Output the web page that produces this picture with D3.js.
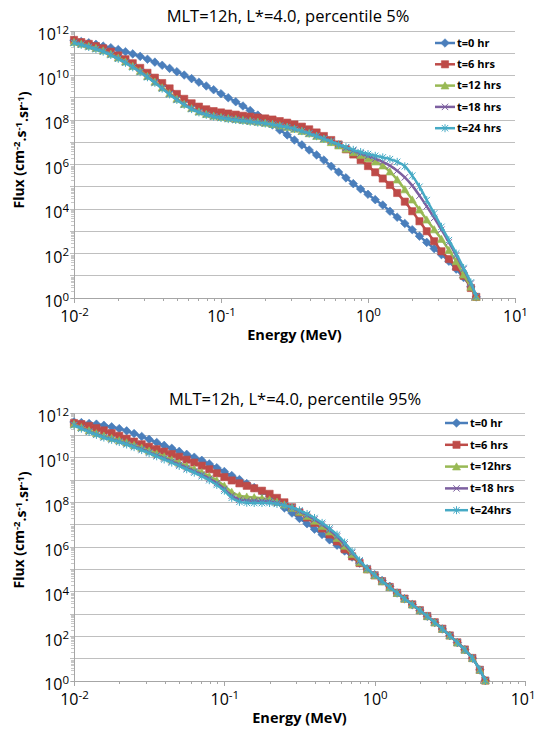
<!DOCTYPE html>
<html>
<head>
<meta charset="utf-8">
<script src="https://cdn.jsdelivr.net/npm/d3@7"></script>
<style>
  body { margin: 0; background: #fff; }
  svg text { font-family: "Open Sans", "Noto Sans", sans-serif; fill: #000; }
</style>
</head>
<body>
<svg id="chart" width="536" height="730"></svg>
<script>
// Energy grid (MeV), shared by all curves
var energy = [0.0100,0.0112,0.0126,0.0141,0.0158,0.0178,0.0200,0.0224,0.0251,0.0282,
  0.0316,0.0355,0.0398,0.0447,0.0501,0.0562,0.0631,0.0708,0.0794,0.0891,
  0.100,0.112,0.126,0.141,0.158,0.178,0.200,0.224,0.251,0.282,
  0.316,0.355,0.398,0.447,0.501,0.562,0.631,0.708,0.794,0.891,
  1.00,1.12,1.26,1.41,1.58,1.78,2.00,2.24,2.51,2.82,
  3.16,3.55,3.98,4.47,5.01,5.45];

// log10 of flux, percentile 5%
var p5_t0 = [11.58,11.53,11.47,11.40,11.32,11.25,11.17,11.07,10.97,10.86,
  10.73,10.60,10.46,10.32,10.17,10.02,9.86,9.70,9.53,9.36,
  9.18,9.00,8.82,8.63,8.43,8.22,8.01,7.78,7.55,7.33,
  7.10,6.88,6.65,6.43,6.20,5.92,5.66,5.40,5.14,4.90,
  4.66,4.42,4.18,3.90,3.63,3.35,3.07,2.78,2.50,2.22,
  1.95,1.65,1.30,0.92,0.50,0.05];
var p5_t6 = [11.60,11.50,11.42,11.32,11.22,11.07,10.90,10.73,10.55,10.34,
  10.12,9.90,9.66,9.42,9.17,8.95,8.75,8.60,8.48,8.40,
  8.34,8.29,8.24,8.19,8.15,8.11,8.07,8.02,7.95,7.88,
  7.80,7.70,7.58,7.44,7.28,7.10,6.90,6.68,6.45,6.20,
  5.93,5.65,5.37,5.08,4.72,4.33,3.90,3.45,3.00,2.55,
  2.10,1.75,1.40,1.00,0.45,0.05];
var p5_t12 = [11.50,11.42,11.33,11.23,11.12,10.97,10.80,10.62,10.42,10.20,
  9.97,9.72,9.46,9.20,8.95,8.72,8.53,8.38,8.27,8.19,
  8.13,8.08,8.04,8.00,7.96,7.92,7.87,7.82,7.75,7.68,
  7.60,7.50,7.40,7.28,7.15,7.00,6.85,6.70,6.55,6.42,
  6.28,6.13,5.95,5.68,5.32,4.88,4.42,3.97,3.52,3.08,
  2.65,2.15,1.65,1.05,0.50,0.05];
var p5_t18 = [11.48,11.40,11.30,11.20,11.09,10.94,10.77,10.59,10.39,10.17,
  9.94,9.69,9.43,9.17,8.92,8.70,8.51,8.36,8.25,8.17,
  8.11,8.06,8.02,7.98,7.94,7.90,7.85,7.80,7.74,7.67,
  7.59,7.50,7.40,7.29,7.17,7.03,6.89,6.75,6.62,6.50,
  6.38,6.26,6.12,5.95,5.72,5.42,5.05,4.60,4.12,3.60,
  3.07,2.50,1.92,1.30,0.65,0.07];
var p5_t24 = [11.46,11.38,11.28,11.18,11.07,10.92,10.75,10.57,10.37,10.15,
  9.92,9.67,9.41,9.15,8.90,8.68,8.49,8.34,8.23,8.15,
  8.09,8.04,8.00,7.96,7.92,7.88,7.84,7.79,7.74,7.68,
  7.60,7.50,7.39,7.27,7.15,7.03,6.90,6.78,6.66,6.56,
  6.47,6.39,6.32,6.24,6.12,5.92,5.50,5.00,4.40,3.80,
  3.20,2.60,2.00,1.35,0.70,0.08];

// log10 of flux, percentile 95%
var p95_t0 = [11.60,11.57,11.53,11.50,11.45,11.38,11.30,11.20,11.08,10.95,
  10.82,10.68,10.55,10.42,10.28,10.15,10.02,9.88,9.72,9.55,
  9.38,9.20,9.02,8.84,8.66,8.47,8.27,8.03,7.75,7.52,
  7.28,7.04,6.80,6.56,6.32,6.08,5.82,5.55,5.28,5.02,
  4.76,4.50,4.24,3.94,3.68,3.42,3.16,2.90,2.62,2.33,
  2.03,1.72,1.40,1.02,0.50,0.02];
var p95_t6 = [11.55,11.50,11.42,11.32,11.22,11.10,10.98,10.85,10.72,10.60,
  10.49,10.38,10.27,10.16,10.04,9.91,9.78,9.64,9.48,9.30,
  9.13,8.98,8.85,8.74,8.63,8.52,8.38,8.20,8.00,7.78,
  7.55,7.32,7.08,6.83,6.56,6.25,5.90,5.58,5.28,5.00,
  4.73,4.47,4.21,3.95,3.69,3.43,3.17,2.91,2.63,2.34,
  2.04,1.73,1.41,1.03,0.50,0.02];
var p95_t12 = [11.50,11.36,11.22,11.09,10.98,10.88,10.78,10.68,10.56,10.44,
  10.31,10.18,10.05,9.91,9.77,9.63,9.49,9.34,9.17,8.98,
  8.74,8.46,8.30,8.25,8.22,8.18,8.12,8.02,7.90,7.75,
  7.57,7.38,7.17,6.94,6.69,6.40,6.05,5.68,5.32,5.00,
  4.73,4.46,4.20,3.94,3.68,3.42,3.16,2.90,2.62,2.33,
  2.03,1.72,1.40,1.02,0.50,0.02];
var p95_t18 = [11.47,11.32,11.17,11.04,10.92,10.82,10.72,10.62,10.50,10.38,
  10.24,10.10,9.97,9.83,9.69,9.54,9.39,9.24,9.06,8.86,
  8.60,8.30,8.12,8.08,8.07,8.06,8.04,7.97,7.87,7.75,
  7.60,7.43,7.23,7.01,6.76,6.47,6.12,5.74,5.36,5.02,
  4.74,4.46,4.20,3.94,3.68,3.42,3.16,2.90,2.62,2.33,
  2.03,1.72,1.40,1.02,0.50,0.02];
var p95_t24 = [11.45,11.30,11.15,11.02,10.90,10.80,10.70,10.59,10.47,10.34,
  10.20,10.06,9.92,9.78,9.63,9.48,9.33,9.17,8.99,8.78,
  8.52,8.20,8.02,7.98,7.97,7.97,7.97,7.93,7.86,7.77,
  7.64,7.48,7.30,7.08,6.83,6.55,6.20,5.80,5.40,5.04,
  4.75,4.47,4.20,3.94,3.68,3.42,3.16,2.90,2.62,2.33,
  2.03,1.72,1.40,1.02,0.50,0.02];

var labels5 = ["t=0 hr", "t=6 hrs", "t=12 hrs", "t=18 hrs", "t=24 hrs"];
var labels95 = ["t=0 hr", "t=6 hrs", "t=12hrs", "t=18 hrs", "t=24hrs"];

var yTickPowers = [0, 2, 4, 6, 8, 10, 12];
var gridPowers = [0, 1, 2, 3, 4, 5, 6, 7, 8, 9, 10, 11, 12];
var xTickPowers = [-2, -1, 0, 1];

var seriesColors = ["#4a7ebb", "#be4b48", "#98b954", "#7d60a0", "#46aac5"];
var seriesMarkers = ["diamond", "square", "triangle", "x", "star"];

//-------------------------------
// marker shapes (Excel 2007 style)
function markerPath(type) {
  if (type == "diamond") return "M0,-4.3L4.3,0L0,4.3L-4.3,0Z";
  if (type == "square") return "M-3.6,-3.6h7.2v7.2h-7.2Z";
  if (type == "triangle") return "M0,-3.8L4,3.4L-4,3.4Z";
  if (type == "x") return "M-3.2,-3.2L3.2,3.2M3.2,-3.2L-3.2,3.2";
  if (type == "star") return "M-3.2,-3.2L3.2,3.2M3.2,-3.2L-3.2,3.2M0,-4L0,4";
}

function isOpen(type) {
  return type == "x" || type == "star";
}

function drawMarker(sel, type, color) {
  sel.attr("d", markerPath(type))
    .attr("fill", isOpen(type) ? "none" : color)
    .attr("stroke", color)
    .attr("stroke-width", isOpen(type) ? 1 : 0.6);
}

function supLabel(text, exp, supSize) {
  text.text(null);
  text.append("tspan").text("10");
  text.append("tspan")
    .attr("dy", "-0.55em")
    .attr("font-size", supSize)
    .text(exp);
}

function drawPanel(svg, cfg) {
  var x = d3.scaleLog().domain([0.01, 10]).range([cfg.left, cfg.right]);
  var y = d3.scaleLog().domain([1, 1e12]).range([cfg.bottom, cfg.top]);

  var g = svg.append("g");

  // gridlines every decade
  g.append("g")
    .selectAll("line")
    .data(gridPowers)
    .enter().append("line")
    .attr("x1", cfg.left - 4)
    .attr("x2", cfg.right)
    .attr("y1", function(p) { return y(Math.pow(10, p)); })
    .attr("y2", function(p) { return y(Math.pow(10, p)); })
    .attr("stroke", "#bfbfbf")
    .attr("stroke-width", 1)
    .attr("shape-rendering", "crispEdges");

  // y minor ticks
  var yMinor = [];
  gridPowers.slice(0, 12).forEach(function(p) {
    for (var m = 2; m <= 9; m++) yMinor.push(m * Math.pow(10, p));
  });
  var yMinorAxis = g.append("g")
    .attr("transform", "translate(" + cfg.left + ",0)")
    .call(d3.axisLeft(y).tickValues(yMinor).tickSize(3).tickFormat(""));
  yMinorAxis.select(".domain").attr("stroke", "#a6a6a6");
  yMinorAxis.selectAll(".tick line").attr("stroke", "#c8c8c8").attr("shape-rendering", "crispEdges");

  // y labels
  var yAxis = g.append("g")
    .attr("transform", "translate(" + cfg.left + ",0)")
    .call(d3.axisLeft(y).tickValues(yTickPowers.map(function(p) { return Math.pow(10, p); })).tickSize(0).tickPadding(5));
  yAxis.select(".domain").remove();
  yAxis.selectAll(".tick text")
    .attr("font-size", 16)
    .attr("dy", "0.55em")
    .each(function(d) {
      supLabel(d3.select(this), Math.round(Math.log10(d)), 11.5);
    });

  // x axis
  var xMinor = [];
  [-2, -1, 0].forEach(function(p) {
    for (var m = 2; m <= 9; m++) xMinor.push(m * Math.pow(10, p));
  });
  var xMinorAxis = g.append("g")
    .attr("transform", "translate(0," + cfg.bottom + ")")
    .call(d3.axisBottom(x).tickValues(xMinor).tickSize(3).tickFormat(""));
  xMinorAxis.select(".domain").attr("stroke", "#a6a6a6");
  xMinorAxis.selectAll(".tick line").attr("stroke", "#a6a6a6").attr("shape-rendering", "crispEdges");

  var xAxis = g.append("g")
    .attr("transform", "translate(0," + cfg.bottom + ")")
    .call(d3.axisBottom(x).tickValues(xTickPowers.map(function(p) { return Math.pow(10, p); })).tickSize(5).tickPadding(3));
  xAxis.select(".domain").attr("stroke", "#a6a6a6").attr("shape-rendering", "crispEdges");
  xAxis.selectAll(".tick line").attr("stroke", "#a6a6a6").attr("shape-rendering", "crispEdges");
  xAxis.selectAll(".tick text")
    .attr("font-size", 16)
    .attr("dy", "1.0em")
    .each(function(d) {
      supLabel(d3.select(this), Math.round(Math.log10(d)), 11.5);
    });
  // keep the last label inside the page
  xAxis.selectAll(".tick text")
    .filter(function(d) { return d >= 10; })
    .attr("text-anchor", cfg.right > 520 ? "end" : "middle")
    .attr("x", cfg.right > 520 ? 10 : 0);
  g.selectAll(".tick text").attr("fill", "#000");

  // series
  var line = d3.line()
    .x(function(d) { return x(d.e); })
    .y(function(d) { return y(d.f); })
    .curve(d3.curveMonotoneX);

  cfg.series.forEach(function(vals, i) {
    var pts = vals.map(function(v, k) { return {e: energy[k], f: Math.pow(10, v)}; });
    var sg = g.append("g");
    sg.append("path")
      .datum(pts)
      .attr("d", line)
      .attr("fill", "none")
      .attr("stroke", seriesColors[i])
      .attr("stroke-width", 2.5);
    sg.selectAll("path.mk")
      .data(pts)
      .enter().append("path")
      .attr("class", "mk")
      .attr("transform", function(d) { return "translate(" + x(d.e) + "," + y(d.f) + ")"; })
      .call(drawMarker, seriesMarkers[i], seriesColors[i]);
  });

  // title
  svg.append("text")
    .attr("x", cfg.titleX)
    .attr("y", cfg.titleY)
    .attr("text-anchor", "middle")
    .attr("font-size", 16.5)
    .text(cfg.title);

  // axis titles
  svg.append("text")
    .attr("x", (cfg.left + cfg.right) / 2)
    .attr("y", cfg.xLabelY)
    .attr("text-anchor", "middle")
    .attr("font-size", 14.5)
    .attr("font-weight", "bold")
    .text("Energy (MeV)");

  var yl = svg.append("text")
    .attr("transform", "translate(" + cfg.yLabelX + "," + cfg.yLabelY + ") rotate(-90)")
    .attr("text-anchor", "middle")
    .attr("font-size", 14)
    .attr("font-weight", "bold");
  yl.append("tspan").text("Flux (cm");
  yl.append("tspan").attr("dy", "-0.4em").attr("font-size", 9.5).text("-2");
  yl.append("tspan").attr("dy", "0.4em").text(".s");
  yl.append("tspan").attr("dy", "-0.4em").attr("font-size", 9.5).text("-1");
  yl.append("tspan").attr("dy", "0.4em").text(".sr");
  yl.append("tspan").attr("dy", "-0.4em").attr("font-size", 9.5).text("-1");
  yl.append("tspan").attr("dy", "0.4em").text(")");

  // legend
  var lg = svg.append("g");
  cfg.labels.forEach(function(lab, i) {
    var ly = cfg.legendY + i * cfg.legendStep;
    lg.append("line")
      .attr("x1", cfg.legendX)
      .attr("x2", cfg.legendX + cfg.legendLen)
      .attr("y1", ly).attr("y2", ly)
      .attr("stroke", seriesColors[i])
      .attr("stroke-width", 2.5);
    lg.append("path")
      .attr("transform", "translate(" + (cfg.legendX + cfg.legendLen / 2) + "," + ly + ")")
      .call(drawMarker, seriesMarkers[i], seriesColors[i]);
    lg.append("text")
      .attr("x", cfg.legendX + cfg.legendLen + 2)
      .attr("y", ly)
      .attr("dy", "0.35em")
      .attr("font-size", 11)
      .attr("font-weight", "bold")
      .attr("fill", "#262626")
      .text(lab);
  });
}

var svg = d3.select("#chart");

drawPanel(svg, {
  left: 74, right: 515, top: 31, bottom: 298,
  title: "MLT=12h, L*=4.0, percentile 5%", titleX: 288, titleY: 22,
  xLabelY: 340, yLabelX: 24, yLabelY: 150,
  legendX: 435, legendY: 43, legendStep: 21.3, legendLen: 20,
  labels: labels5,
  series: [p5_t0, p5_t6, p5_t12, p5_t18, p5_t24]
});

drawPanel(svg, {
  left: 74, right: 525, top: 413, bottom: 681,
  title: "MLT=12h, L*=4.0, percentile 95%", titleX: 295, titleY: 405,
  xLabelY: 723, yLabelX: 24, yLabelY: 530,
  legendX: 445, legendY: 423, legendStep: 21.8, legendLen: 23,
  labels: labels95,
  series: [p95_t0, p95_t6, p95_t12, p95_t18, p95_t24]
});
</script>
</body>
</html>
